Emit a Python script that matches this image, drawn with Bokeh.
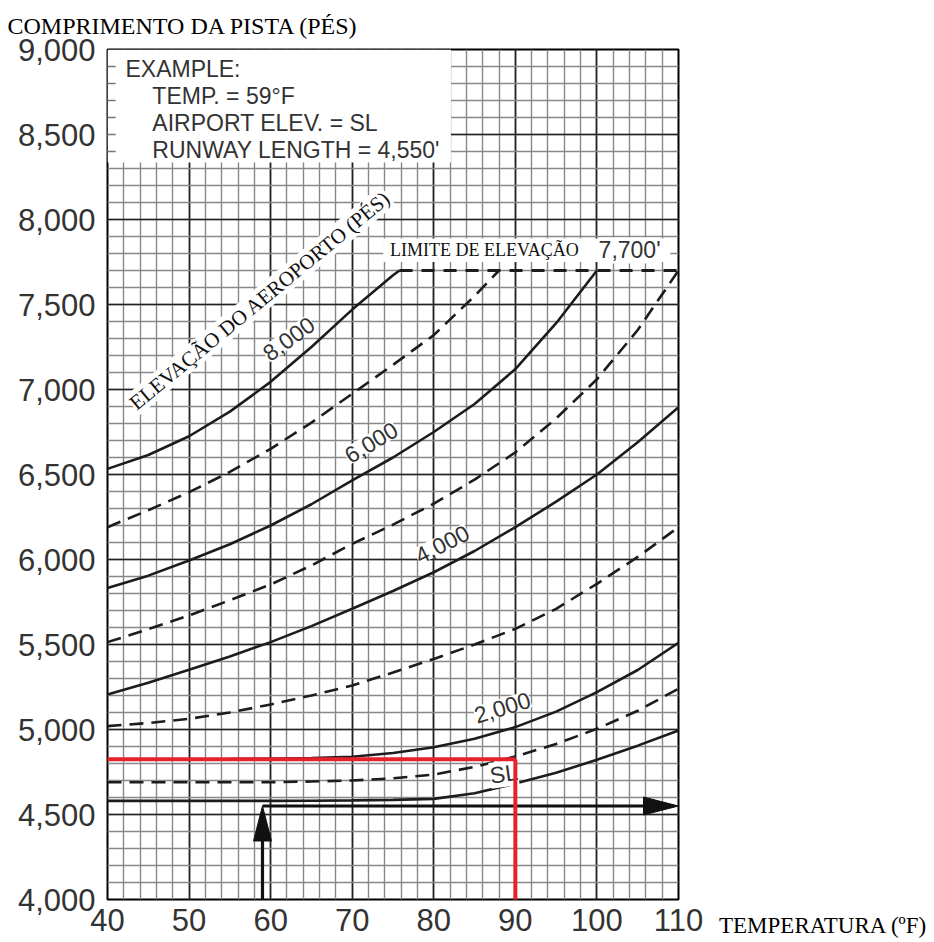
from bokeh.plotting import figure
from bokeh.embed import file_html
from bokeh.resources import INLINE
from bokeh.models import (Range1d, SingleIntervalTicker, FixedTicker, NumeralTickFormatter,
                          Label, Legend, LegendItem)

# ---------------- data ----------------
temps = [40, 45, 50, 55, 60, 65, 70, 75, 80, 85, 90, 95, 100, 105, 110]
elev_sl = [4580, 4580, 4580, 4580, 4580, 4581, 4583, 4586, 4592, 4625, 4682, 4745, 4822, 4905, 4994]
elev_1000 = [4690, 4690, 4690, 4690, 4690, 4694, 4700, 4713, 4735, 4780, 4841, 4915, 5004, 5110, 5240]
elev_2000 = [4825, 4825, 4825, 4826, 4828, 4832, 4840, 4862, 4896, 4945, 5014, 5105, 5220, 5350, 5510]
elev_3000 = [5020, 5038, 5063, 5100, 5147, 5200, 5259, 5335, 5415, 5500, 5592, 5710, 5857, 6015, 6190]
elev_4000 = [5206, 5275, 5351, 5430, 5514, 5608, 5710, 5815, 5925, 6050, 6190, 6340, 6500, 6690, 6896]
elev_5000 = [5514, 5590, 5671, 5760, 5853, 5965, 6092, 6205, 6328, 6470, 6630, 6830, 7060, 7350, 7700]
temps_6000 = [40, 45, 50, 55, 60, 65, 70, 75, 80, 85, 90, 95, 100]
elev_6000 = [5833, 5905, 5994, 6090, 6200, 6325, 6465, 6600, 6750, 6915, 7120, 7390, 7700]
temps_7000 = [40, 45, 50, 55, 60, 65, 70, 75, 80, 85, 88]
elev_7000 = [6190, 6290, 6396, 6515, 6651, 6805, 6975, 7145, 7320, 7550, 7700]
temps_8000 = [40, 45, 50, 55, 60, 65, 70, 75, 75.8]
elev_8000 = [6533, 6615, 6725, 6870, 7045, 7250, 7470, 7672, 7700]
limit_temps = [75.8, 110]
limit_elev = [7700, 7700]

x_ticks = [40, 50, 60, 70, 80, 90, 100, 110]
y_ticks = [4000, 4500, 5000, 5500, 6000, 6500, 7000, 7500, 8000, 8500, 9000]

example_temp = 59
example_length = 4550
lookup_temp = 90
lookup_length = 4825

curve_labels = [
    ("8,000", 62.2, 7300, 36),
    ("6,000", 72.3, 6690, 31),
    ("4,000", 81.0, 6092, 27),
    ("2,000", 88.4, 5131, 17),
    ("SL", 88.6, 4739, 8),
]

# ---------------- figure ----------------
SANS = "Liberation Sans"
SERIF = "Liberation Serif"
INK = "#1c1c1c"
TXT = "#333333"
X0, X1, Y0, Y1 = 40, 110, 4000, 9000
FW, FH = 571, 850

p = figure(frame_width=FW, frame_height=FH,
           x_range=Range1d(X0, X1), y_range=Range1d(Y0, Y1),
           output_backend="svg", toolbar_location=None,
           min_border_left=107, min_border_top=49, min_border_right=250, min_border_bottom=38)
p.background_fill_color = "white"
p.border_fill_color = "white"
p.outline_line_color = "black"
p.outline_line_width = 2

# title (top-left)
p.title.text = "COMPRIMENTO DA PISTA (PÉS)"
p.title.text_font = SERIF
p.title.text_font_size = "24px"
p.title.text_font_style = "normal"
p.title.text_color = "#000000"
p.title.align = "left"
p.title.vertical_align = "middle"
p.title.offset = -100
p.title.standoff = 19

# axes
for ax in (p.xaxis[0], p.yaxis[0]):
    ax.axis_line_color = None
    ax.major_tick_line_color = None
    ax.minor_tick_line_color = None
    ax.major_label_text_font = SANS
    ax.major_label_text_font_size = "31px"
    ax.major_label_text_color = TXT
p.xaxis.ticker = FixedTicker(ticks=x_ticks)
p.yaxis.ticker = FixedTicker(ticks=y_ticks)
p.yaxis.formatter = NumeralTickFormatter(format="0,0")
p.xaxis.major_label_standoff = 3
p.yaxis.major_label_standoff = 6

# grid
p.xgrid.ticker = SingleIntervalTicker(interval=10, num_minor_ticks=5)
p.ygrid.ticker = SingleIntervalTicker(interval=500, num_minor_ticks=5)
for g in (p.xgrid[0], p.ygrid[0]):
    g.grid_line_color = "#222222"
    g.grid_line_width = 1.7
    g.grid_line_alpha = 1
    g.minor_grid_line_color = "#888888"
    g.minor_grid_line_width = 1.4

# example box (white panel over the grid)
box_right = 82.1
box_bottom = 8335
p.quad(left=X0, right=box_right, bottom=box_bottom, top=Y1, fill_color="white", line_color=None)
tick_ys = [v for v in range(8400, 9000, 100)]
p.segment(x0=[X0] * len(tick_ys), y0=tick_ys, x1=[X0 + 1] * len(tick_ys), y1=tick_ys,
          line_color="#777777", line_width=1.3)

# curves
solid = dict(line_color=INK, line_width=2.6)
dashed = dict(line_color=INK, line_width=2.6, line_dash="14 8")
p.line(temps, elev_sl, **solid)
p.line(temps, elev_1000, **dashed)
p.line(temps, elev_2000, **solid)
p.line(temps, elev_3000, **dashed)
p.line(temps, elev_4000, **solid)
p.line(temps, elev_5000, **dashed)
p.line(temps_6000, elev_6000, **solid)
p.line(temps_7000, elev_7000, **dashed)
p.line(temps_8000, elev_8000, **solid)
p.line(limit_temps, limit_elev, line_color=INK, line_width=2.8, line_dash="13 9")

# white band behind the elevation limit label
p.quad(left=73.8, right=109.0, bottom=7750, top=7888, fill_color="white", line_color=None)

# example arrows (long, narrow heads: 35 px long, 18 px wide)
px_x = FW / (X1 - X0)       # pixels per degree
px_y = FH / (Y1 - Y0)       # pixels per foot
head_len, head_half = 35, 9
ARW = "#111111"
v_base = example_length - head_len / px_y
h_base = X1 - head_len / px_x
p.line([example_temp, example_temp], [Y0, v_base], line_color=ARW, line_width=3.2)
p.line([example_temp, h_base], [example_length, example_length], line_color=ARW, line_width=3.2)
p.patches(xs=[[example_temp, example_temp - head_half / px_x, example_temp + head_half / px_x],
              [X1, h_base, h_base]],
          ys=[[example_length, v_base, v_base],
              [example_length, example_length + head_half / px_y, example_length - head_half / px_y]],
          fill_color=ARW, line_color=ARW, line_width=1)

# labels
def lab(text, x, y, size, font, angle=0, bg=True, color=TXT, align="center"):
    kw = dict(x=x, y=y, text=text, angle=angle, angle_units="deg",
              text_font=font, text_font_size=size, text_color=color,
              text_align=align, text_baseline="middle")
    if bg:
        kw.update(background_fill_color="white", background_fill_alpha=1.0)
    p.add_layout(Label(**kw))

for t, x, y, a in curve_labels:
    lab(t, x, y, "23px", SANS, angle=a)

lab("ELEVAÇÃO DO AEROPORTO (PÉS)", 58.7, 7524, "21px", SERIF, angle=39.5, color="#111111")
lab("LIMITE DE ELEVAÇÃO", 86.2, 7818, "18px", SERIF, color="#111111")
lab("7,700'", 104.0, 7818, "23px", SANS)

lab("EXAMPLE:", 42.2, 8888, "23px", SANS, bg=False, align="left")
lab("TEMP. = 59°F", 45.5, 8724, "23px", SANS, bg=False, align="left")
lab("AIRPORT ELEV. = SL", 45.5, 8565, "23px", SANS, bg=False, align="left")
lab("RUNWAY LENGTH = 4,550'", 45.5, 8406, "23px", SANS, bg=False, align="left")

# red lookup lines
r1 = p.line([X0, lookup_temp], [lookup_length, lookup_length], line_color="#e8202a", line_width=4)
r2 = p.line([lookup_temp, lookup_temp], [lookup_length, Y0], line_color="#e8202a", line_width=4)
r1.level = "overlay"
r2.level = "overlay"

# x-axis caption, right of the last tick label (legend in the right side panel)
dummy = p.line(x=[], y=[], line_alpha=0)
cap = Legend(items=[LegendItem(label="TEMPERATURA (ºF)", renderers=[dummy])],
             location=(40, -40), glyph_width=1, glyph_height=22, label_height=22,
             label_standoff=0, padding=0, margin=0, spacing=0,
             border_line_color=None, background_fill_alpha=0,
             label_text_font=SERIF, label_text_font_size="23px", label_text_color="#000000")
p.add_layout(cap, "right")

open("out.html", "w").write(file_html(p, INLINE))
